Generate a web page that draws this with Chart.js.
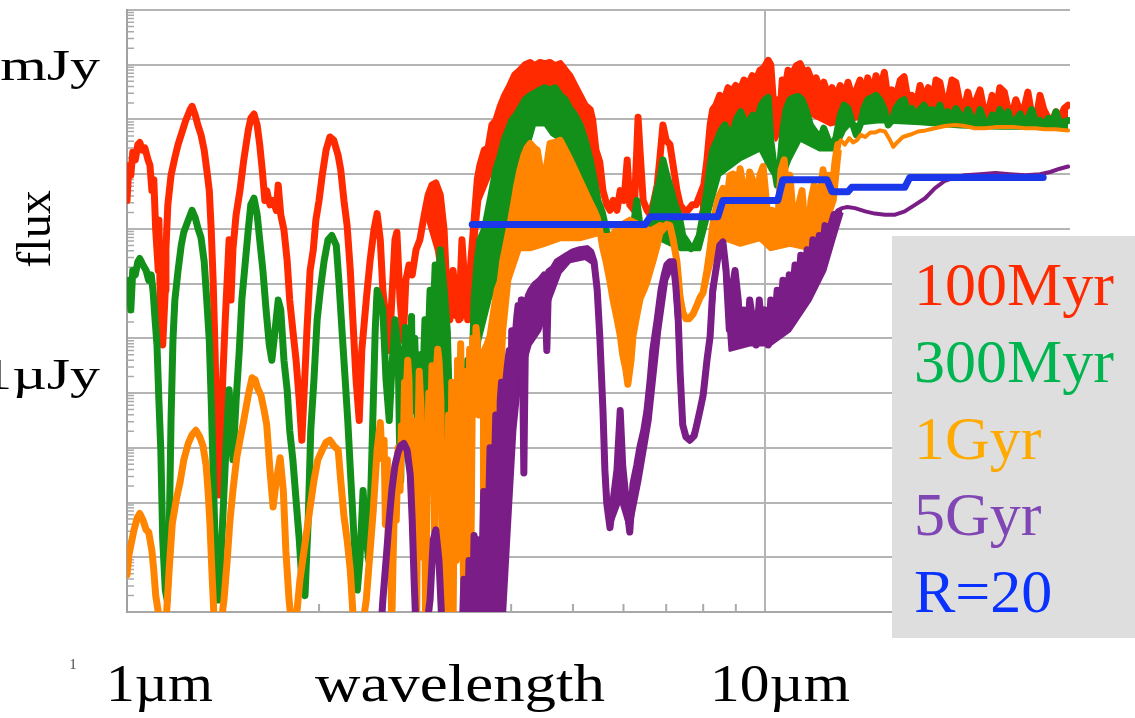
<!DOCTYPE html>
<html>
<head>
<meta charset="utf-8">
<script src="https://cdn.jsdelivr.net/npm/chart.js@4.4.0/dist/chart.umd.min.js"></script>
<style>
  html, body { margin: 0; padding: 0; background: #fff; }
  canvas { display: block; }
</style>
</head>
<body>
<canvas id="myChart" width="1135" height="718"></canvas>
<script>
// every point is [log10(wavelength / um), log10(flux / mJy)]
const spec100Myr = [
  [0,-1.24],[.003,-0.92],[.006,-1.01],[.009,-0.80],[.013,-0.87],[.017,-0.73],[.020,-0.71],[.024,-0.78],[.028,-0.76],[.033,-0.87],[.036,-0.92],[.039,-1.15],[.042,-1.05],[.045,-1.51],[.049,-1.88],[.050,-1.42],[.053,-2.43],[.056,-2.56],[.060,-2.06],[.061,-1.69],[.064,-1.28],[.069,-1.01],[.075,-0.85],[.080,-0.73],[.086,-0.62],[.092,-0.51],[.099,-0.41],[.102,-0.38],[.107,-0.46],[.111,-0.55],[.116,-0.64],[.121,-0.78],[.125,-0.96],[.129,-1.15],[.132,-1.51],[.135,-1.97],[.138,-2.61],[.141,-3.43],[.144,-3.93],[.147,-3.70],[.150,-2.88],[.154,-2.33],[.157,-1.97],[.160,-1.60],[.163,-2.15],[.166,-1.69],[.171,-1.37],[.177,-1.15],[.183,-0.87],[.190,-0.60],[.194,-0.49],[.199,-0.45],[.204,-0.55],[.208,-0.73],[.212,-0.96],[.216,-1.24],[.219,-1.15],[.224,-1.28],[.229,-1.24],[.234,-1.33],[.237,-1.10],[.241,-1.37],[.246,-1.51],[.251,-1.79],[.255,-2.15],[.260,-2.43],[.265,-2.70],[.270,-3.07],[.274,-3.43],[.277,-3.07],[.282,-2.43],[.287,-1.88],[.292,-1.69],[.296,-1.42],[.301,-1.24],[.306,-1.01],[.312,-0.78],[.318,-0.66],[.324,-0.69],[.331,-0.83],[.335,-0.96],[.340,-1.24],[.345,-1.47],[.350,-1.88],[.354,-2.33],[.359,-2.88],[.364,-3.25],[.368,-2.61],[.375,-2.15],[.381,-1.79],[.387,-1.51],[.392,-1.36],[.397,-1.60],[.401,-2.06],[.406,-2.33],[.411,-2.61],[.415,-2.15],[.420,-1.60],[.423,-1.53],[.428,-2.15],[.433,-2.52],[.437,-1.97],[.442,-1.83],[.447,-1.92],[.453,-1.69],[.459,-1.60],[.466,-1.37],[.472,-1.19],[.478,-1.10],[.484,-1.08],[.491,-1.19],[.497,-1.51],[.502,-2.15],[.506,-2.33],[.511,-1.88],[.516,-2.15],[.520,-2.33],[.525,-1.60],[.530,-2.06],[.534,-2.33],[.539,-1.79],[.544,-1.42],[.549,-1.05],[.553,-0.92],[.560,-0.78],[.566,-0.76],[.572,-0.55],[.578,-0.51],[.585,-0.38],[.592,-0.28],[.600,-0.19],[.608,-0.09],[.616,-0.05],[.624,0.00],[.632,0.02],[.639,-0.01],[.647,0.02],[.655,0.01],[.663,0.02],[.671,-0.01],[.679,0.01],[.687,-0.05],[.694,-0.10],[.702,-0.19],[.710,-0.28],[.718,-0.37],[.726,-0.41],[.730,-0.51],[.735,-0.78],[.741,-0.89],[.746,-1.15],[.752,-1.28],[.757,-1.33],[.762,-1.24],[.768,-1.33],[.773,-1.15],[.779,-1.24],[.784,-0.87],[.788,-1.28],[.795,-1.33],[.799,-0.78],[.801,-0.48],[.804,-0.78],[.809,-1.24],[.815,-1.33],[.820,-1.37],[.826,-1.24],[.831,-1.10],[.835,-0.87],[.840,-0.55],[.845,-0.69],[.851,-0.73],[.856,-0.92],[.862,-1.15],[.867,-1.28],[.873,-1.33],[.879,-1.33],[.886,-1.28],[.892,-1.28],[.898,-1.19],[.904,-1.10],[.909,-0.87],[.914,-0.55],[.918,-0.41],[.923,-0.37],[.929,-0.28],[.936,-0.32],[.942,-0.21],[.948,-0.25],[.954,-0.19],[.961,-0.23],[.967,-0.14],[.973,-0.19],[.980,-0.10],[.986,-0.14],[.992,-0.05],[.998,-0.03],[1.005,0.04],[1.009,0.00],[1.014,-0.41],[1.017,-0.55],[1.020,-0.32],[1.024,-0.41],[1.027,-0.14],[1.031,-0.23],[1.036,-0.05],[1.042,-0.09],[1.049,-0.01],[1.055,0.01],[1.061,-0.07],[1.067,-0.05],[1.074,-0.16],[1.080,-0.12],[1.086,-0.23],[1.092,-0.16],[1.099,-0.28],[1.105,-0.21],[1.111,-0.30],[1.118,-0.19],[1.124,-0.32],[1.130,-0.16],[1.136,-0.28],[1.143,-0.23],[1.149,-0.14],[1.155,-0.30],[1.161,-0.12],[1.168,-0.28],[1.174,-0.10],[1.180,-0.23],[1.187,-0.07],[1.193,-0.32],[1.199,-0.23],[1.205,-0.30],[1.212,-0.14],[1.218,-0.11],[1.224,-0.32],[1.230,-0.28],[1.237,-0.37],[1.243,-0.19],[1.249,-0.32],[1.256,-0.21],[1.262,-0.37],[1.268,-0.14],[1.274,-0.16],[1.281,-0.37],[1.287,-0.32],[1.293,-0.14],[1.299,-0.16],[1.306,-0.37],[1.312,-0.41],[1.318,-0.25],[1.324,-0.40],[1.331,-0.32],[1.337,-0.23],[1.343,-0.41],[1.350,-0.43],[1.356,-0.28],[1.362,-0.43],[1.368,-0.21],[1.375,-0.25],[1.381,-0.41],[1.387,-0.46],[1.393,-0.32],[1.400,-0.43],[1.406,-0.40],[1.412,-0.25],[1.418,-0.46],[1.425,-0.49],[1.431,-0.28],[1.437,-0.41],[1.444,-0.49],[1.450,-0.51],[1.456,-0.43],[1.462,-0.49],[1.469,-0.40],[1.475,-0.37]
];

const spec300Myr = [
  [0,-2.15],[.003,-1.97],[.006,-2.24],[.009,-1.88],[.013,-1.92],[.017,-1.80],[.020,-1.77],[.025,-1.83],[.030,-1.88],[.034,-1.97],[.038,-1.92],[.041,-2.08],[.044,-2.33],[.047,-2.56],[.050,-3.07],[.053,-3.52],[.056,-4.34],[.060,-4.80],[.063,-4.89],[.066,-4.34],[.069,-3.25],[.072,-2.52],[.075,-2.15],[.080,-1.88],[.085,-1.65],[.089,-1.53],[.096,-1.42],[.102,-1.33],[.107,-1.40],[.111,-1.49],[.116,-1.58],[.121,-1.80],[.125,-2.15],[.129,-2.52],[.132,-3.07],[.135,-3.70],[.138,-4.34],[.141,-4.80],[.144,-4.89],[.147,-4.53],[.150,-4.16],[.155,-3.52],[.160,-2.97],[.163,-3.25],[.166,-3.61],[.171,-3.07],[.176,-2.61],[.180,-2.15],[.185,-1.83],[.190,-1.51],[.194,-1.28],[.199,-1.22],[.204,-1.37],[.208,-1.60],[.213,-1.88],[.218,-2.24],[.223,-2.56],[.227,-2.70],[.232,-2.43],[.237,-2.15],[.241,-2.24],[.246,-2.70],[.251,-2.97],[.255,-3.34],[.260,-3.61],[.265,-3.98],[.270,-4.34],[.274,-4.71],[.279,-4.85],[.284,-4.16],[.288,-3.34],[.293,-2.88],[.298,-2.33],[.303,-2.06],[.309,-1.79],[.315,-1.60],[.321,-1.56],[.328,-1.65],[.332,-1.97],[.337,-2.43],[.342,-2.88],[.346,-3.25],[.351,-3.80],[.356,-4.34],[.361,-4.80],[.365,-4.53],[.370,-3.89],[.375,-4.34],[.379,-4.53],[.384,-3.52],[.389,-2.43],[.392,-2.06],[.397,-2.15],[.401,-2.24],[.406,-2.88],[.411,-3.25],[.415,-2.79],[.420,-2.33],[.425,-2.61],[.427,-3.40],[.429,-3.80],[.432,-2.60],[.434,-3.25],[.436,-2.40],[.439,-2.70],[.441,-3.60],[.444,-2.97],[.446,-2.30],[.448,-3.16],[.451,-2.50],[.453,-2.88],[.456,-3.50],[.459,-2.65],[.462,-3.20],[.467,-2.33],[.470,-2.90],[.475,-2.06],[.478,-2.60],[.483,-1.83],[.487,-2.30],[.491,-1.69],[.497,-2.06],[.502,-2.43],[.506,-3.25],[.511,-4.13],[.516,-3.25],[.520,-3.80],[.525,-2.88],[.530,-3.43],[.534,-2.70],[.539,-3.25],[.544,-2.15],[.549,-1.79],[.553,-1.60],[.560,-1.51],[.566,-1.33],[.572,-1.15],[.578,-0.96],[.585,-0.83],[.591,-0.69],[.597,-0.60],[.603,-0.51],[.610,-0.46],[.616,-0.40],[.624,-0.32],[.632,-0.28],[.639,-0.26],[.647,-0.23],[.655,-0.21],[.663,-0.23],[.671,-0.21],[.679,-0.28],[.687,-0.32],[.694,-0.40],[.702,-0.46],[.710,-0.55],[.718,-0.69],[.726,-0.87],[.732,-1.05],[.738,-1.24],[.745,-1.35],[.751,-1.51],[.757,-1.65],[.763,-1.69],[.768,-1.60],[.773,-1.51],[.777,-1.69],[.784,-1.88],[.788,-1.83],[.795,-1.42],[.799,-1.24],[.804,-1.47],[.810,-1.60],[.817,-1.56],[.823,-1.37],[.829,-1.19],[.835,-1.05],[.840,-0.87],[.846,-1.01],[.853,-1.15],[.859,-1.28],[.865,-1.37],[.871,-1.56],[.878,-1.62],[.884,-1.68],[.890,-1.65],[.897,-1.56],[.903,-1.37],[.909,-1.15],[.914,-0.92],[.918,-0.78],[.925,-0.69],[.931,-0.60],[.937,-0.55],[.944,-0.64],[.950,-0.60],[.956,-0.49],[.962,-0.43],[.969,-0.55],[.975,-0.51],[.981,-0.46],[.987,-0.52],[.994,-0.37],[1.000,-0.32],[1.005,-0.30],[1.009,-0.69],[1.014,-0.92],[1.019,-1.10],[1.024,-0.87],[1.028,-0.60],[1.033,-0.41],[1.039,-0.32],[1.045,-0.30],[1.052,-0.29],[1.058,-0.32],[1.064,-0.41],[1.071,-0.55],[1.077,-0.60],[1.082,-0.64],[1.086,-0.69],[1.092,-0.58],[1.099,-0.69],[1.105,-0.73],[1.111,-0.67],[1.118,-0.46],[1.124,-0.37],[1.130,-0.40],[1.136,-0.52],[1.143,-0.64],[1.149,-0.55],[1.155,-0.40],[1.161,-0.32],[1.168,-0.30],[1.174,-0.28],[1.180,-0.32],[1.187,-0.41],[1.193,-0.55],[1.199,-0.51],[1.205,-0.40],[1.212,-0.34],[1.218,-0.32],[1.224,-0.43],[1.230,-0.40],[1.237,-0.49],[1.243,-0.41],[1.249,-0.37],[1.256,-0.43],[1.262,-0.41],[1.268,-0.46],[1.274,-0.37],[1.281,-0.49],[1.287,-0.43],[1.293,-0.51],[1.299,-0.40],[1.306,-0.46],[1.312,-0.51],[1.318,-0.41],[1.324,-0.49],[1.331,-0.51],[1.337,-0.41],[1.343,-0.51],[1.350,-0.55],[1.356,-0.46],[1.362,-0.51],[1.368,-0.41],[1.375,-0.52],[1.381,-0.43],[1.387,-0.54],[1.393,-0.51],[1.400,-0.45],[1.406,-0.55],[1.412,-0.49],[1.418,-0.41],[1.425,-0.54],[1.431,-0.51],[1.437,-0.56],[1.444,-0.49],[1.450,-0.55],[1.456,-0.43],[1.462,-0.54],[1.469,-0.52],[1.475,-0.51]
];

const spec1Gyr = [
  [0,-4.66],[.003,-4.48],[.006,-4.39],[.011,-4.25],[.016,-4.14],[.020,-4.10],[.025,-4.16],[.030,-4.25],[.034,-4.27],[.039,-4.44],[.042,-4.62],[.045,-4.85],[.049,-5.00],[.052,-5.12],[.056,-5.19],[.061,-5.12],[.066,-4.62],[.071,-4.19],[.077,-3.98],[.083,-3.82],[.089,-3.61],[.096,-3.46],[.102,-3.38],[.108,-3.34],[.114,-3.40],[.119,-3.48],[.124,-3.66],[.127,-3.89],[.130,-4.19],[.133,-4.62],[.136,-5.00],[.141,-5.17],[.146,-5.17],[.152,-4.89],[.157,-4.53],[.161,-4.19],[.166,-3.89],[.172,-3.59],[.177,-3.43],[.183,-3.25],[.190,-3.02],[.196,-2.86],[.201,-2.88],[.205,-2.96],[.210,-3.02],[.215,-3.16],[.219,-3.29],[.224,-3.70],[.229,-4.04],[.234,-3.80],[.240,-3.59],[.245,-3.89],[.249,-4.44],[.254,-4.89],[.259,-5.17],[.265,-5.08],[.271,-4.71],[.276,-4.50],[.282,-4.25],[.287,-4.04],[.293,-3.80],[.299,-3.61],[.306,-3.52],[.312,-3.45],[.318,-3.43],[.324,-3.48],[.331,-3.52],[.335,-3.80],[.340,-4.12],[.345,-4.34],[.350,-4.62],[.354,-5.00],[.361,-5.17],[.368,-5.17],[.375,-4.89],[.381,-4.44],[.386,-4.07],[.392,-3.52],[.397,-3.27],[.400,-3.60],[.403,-3.43],[.405,-4.20],[.408,-3.61],[.410,-4.60],[.412,-4.16],[.415,-5.10],[.417,-4.53],[.420,-3.80],[.422,-4.16],[.425,-3.50],[.428,-3.89],[.430,-3.30],[.433,-3.52],[.435,-2.90],[.437,-3.07],[.440,-2.70],[.442,-2.88],[.444,-3.60],[.447,-3.25],[.449,-4.40],[.451,-3.70],[.454,-5.10],[.456,-3.43],[.458,-2.80],[.461,-3.16],[.463,-4.50],[.466,-3.61],[.468,-5.10],[.470,-3.98],[.473,-3.00],[.475,-3.52],[.478,-2.75],[.480,-3.25],[.482,-4.30],[.484,-2.88],[.487,-2.60],[.489,-2.70],[.492,-3.07],[.494,-4.60],[.497,-3.61],[.500,-5.10],[.502,-4.16],[.504,-3.20],[.506,-4.89],[.509,-2.90],[.511,-5.17],[.514,-3.10],[.516,-4.53],[.518,-2.70],[.520,-3.80],[.523,-2.55],[.525,-3.34],[.528,-5.10],[.530,-4.16],[.532,-2.80],[.534,-4.98],[.537,-2.60],[.539,-4.53],[.542,-2.50],[.544,-3.07],[.547,-2.40],[.549,-2.52],[.551,-3.20],[.553,-2.88],[.560,-2.61],[.564,-2.56],[.569,-2.48],[.575,-2.24],[.580,-2.06],[.585,-1.98],[.589,-1.79],[.594,-1.65],[.600,-1.47],[.607,-1.24],[.611,-1.10],[.616,-0.96],[.622,-0.83],[.627,-0.76],[.632,-0.72],[.638,-0.76],[.643,-0.78],[.647,-0.92],[.652,-1.20],[.657,-0.96],[.663,-0.72],[.671,-0.71],[.679,-0.69],[.687,-0.78],[.694,-0.86],[.702,-0.96],[.710,-1.06],[.718,-1.16],[.726,-1.26],[.732,-1.33],[.737,-1.40],[.741,-1.51],[.746,-1.68],[.751,-1.80],[.757,-1.98],[.762,-2.15],[.768,-2.32],[.773,-2.47],[.777,-2.65],[.782,-2.79],[.785,-2.92],[.790,-2.70],[.793,-2.48],[.799,-2.29],[.804,-2.14],[.810,-2.06],[.815,-1.98],[.820,-1.88],[.824,-1.80],[.831,-1.65],[.835,-1.54],[.842,-1.49],[.846,-1.46],[.851,-1.47],[.856,-1.60],[.862,-1.80],[.867,-2.14],[.871,-2.26],[.876,-2.32],[.881,-2.32],[.887,-2.28],[.893,-2.20],[.898,-2.13],[.903,-2.08],[.909,-1.88],[.914,-1.68],[.918,-1.47],[.925,-1.26],[.929,-1.19],[.934,-1.13],[.940,-1.24],[.945,-1.01],[.950,-1.00],[.956,-1.15],[.961,-0.95],[.966,-1.13],[.972,-1.24],[.976,-0.98],[.981,-1.06],[.987,-1.33],[.992,-1.01],[.997,-0.93],[1.002,-1.24],[1.006,-1.51],[1.011,-1.33],[1.016,-1.65],[1.020,-1.42],[1.025,-0.96],[1.030,-0.87],[1.034,-1.15],[1.039,-1.01],[1.044,-1.37],[1.049,-1.60],[1.053,-1.28],[1.058,-1.15],[1.063,-1.51],[1.067,-1.69],[1.072,-1.24],[1.077,-1.10],[1.082,-1.60],[1.086,-1.19],[1.091,-0.96],[1.096,-1.24],[1.100,-1.01],[1.105,-1.15],[1.110,-0.87],[1.114,-0.73],[1.119,-0.69],[1.125,-0.73],[1.132,-0.67],[1.138,-0.71],[1.144,-0.69],[1.150,-0.64],[1.157,-0.66],[1.165,-0.62],[1.172,-0.62],[1.180,-0.60],[1.188,-0.61],[1.196,-0.69],[1.201,-0.75],[1.207,-0.71],[1.216,-0.66],[1.227,-0.64],[1.240,-0.61],[1.252,-0.60],[1.266,-0.58],[1.282,-0.56],[1.298,-0.55],[1.313,-0.56],[1.329,-0.58],[1.345,-0.58],[1.361,-0.57],[1.376,-0.57],[1.392,-0.57],[1.408,-0.58],[1.423,-0.58],[1.439,-0.59],[1.455,-0.59],[1.475,-0.60]
];

const spec5Gyr = [
  [.397,-5.26],[.401,-4.89],[.406,-4.53],[.411,-4.16],[.415,-3.89],[.420,-3.66],[.425,-3.54],[.429,-3.48],[.434,-3.46],[.439,-3.52],[.444,-3.75],[.447,-4.16],[.450,-4.71],[.453,-5.17],[.467,-5.26],[.475,-4.89],[.480,-4.34],[.484,-4.25],[.489,-4.53],[.494,-5.17],[.525,-5.26],[.528,-4.70],[.531,-4.89],[.534,-5.20],[.536,-4.53],[.539,-4.90],[.541,-5.17],[.544,-4.30],[.547,-4.89],[.550,-5.20],[.552,-4.34],[.554,-5.20],[.556,-4.71],[.559,-3.90],[.561,-3.98],[.563,-5.20],[.566,-4.25],[.569,-3.50],[.571,-3.61],[.573,-4.90],[.575,-3.89],[.578,-3.20],[.580,-3.34],[.582,-4.50],[.585,-3.07],[.587,-2.90],[.589,-3.34],[.591,-4.20],[.594,-2.88],[.597,-2.70],[.599,-2.61],[.601,-3.60],[.603,-2.43],[.606,-3.10],[.608,-2.52],[.611,-2.30],[.613,-2.20],[.616,-2.60],[.618,-2.15],[.619,-2.24],[.622,-3.73],[.625,-2.24],[.629,-2.11],[.633,-2.06],[.639,-2.01],[.647,-1.97],[.654,-1.92],[.658,-2.61],[.661,-1.89],[.668,-1.86],[.674,-1.80],[.682,-1.77],[.690,-1.74],[.699,-1.71],[.710,-1.69],[.721,-1.68],[.727,-1.71],[.732,-1.80],[.737,-2.06],[.741,-2.48],[.746,-3.16],[.749,-3.70],[.752,-4.01],[.757,-4.23],[.762,-3.98],[.768,-3.70],[.773,-3.16],[.777,-3.67],[.784,-4.07],[.788,-4.27],[.793,-3.83],[.799,-3.66],[.804,-3.49],[.810,-3.34],[.815,-3.16],[.820,-2.88],[.824,-2.61],[.831,-2.33],[.837,-2.06],[.842,-1.92],[.846,-1.83],[.851,-1.80],[.856,-1.80],[.860,-2.01],[.864,-2.33],[.867,-2.82],[.871,-3.29],[.876,-3.40],[.882,-3.43],[.889,-3.39],[.893,-3.29],[.898,-3.16],[.903,-3.02],[.909,-2.70],[.914,-2.48],[.918,-2.06],[.925,-1.80],[.929,-1.65],[.934,-1.62],[.939,-1.88],[.944,-2.42],[.948,-2.06],[.953,-1.88],[.958,-2.15],[.962,-2.52],[.967,-2.24],[.972,-2.48],[.976,-2.15],[.981,-2.34],[.986,-2.56],[.991,-2.15],[.995,-2.42],[1.000,-2.24],[1.005,-2.56],[1.009,-2.15],[1.014,-2.47],[1.019,-2.06],[1.024,-2.33],[1.028,-1.97],[1.033,-2.24],[1.038,-1.92],[1.042,-2.15],[1.047,-1.83],[1.052,-2.06],[1.056,-1.74],[1.061,-1.97],[1.066,-1.69],[1.071,-1.88],[1.075,-1.60],[1.080,-1.79],[1.085,-1.56],[1.089,-1.74],[1.094,-1.47],[1.099,-1.65],[1.103,-1.47],[1.108,-1.37],[1.114,-1.33],[1.121,-1.31],[1.129,-1.30],[1.141,-1.31],[1.157,-1.34],[1.172,-1.36],[1.188,-1.37],[1.204,-1.37],[1.219,-1.34],[1.235,-1.28],[1.251,-1.22],[1.266,-1.13],[1.282,-1.06],[1.298,-1.03],[1.313,-1.01],[1.337,-1.00],[1.361,-0.99],[1.384,-1.00],[1.408,-1.01],[1.431,-1.00],[1.447,-0.98],[1.462,-0.95],[1.475,-0.93]
];

const specR20 = [
  [.541,-1.46],[.812,-1.46],[.820,-1.39],[.926,-1.39],[.934,-1.24],[1.020,-1.24],[1.028,-1.05],[1.097,-1.05],[1.105,-1.16],[1.130,-1.16],[1.136,-1.12],[1.219,-1.12],[1.227,-1.03],[1.436,-1.03]
];

// other edge of the noise band, where the spectra are too dense to show as a single line
const edge100Myr = [
  [.470,-1.40],[.485,-1.70],[.497,-2.20],[.510,-2.30],[.525,-2.33],[.540,-2.00],[.553,-1.24],[.585,-0.78],[.616,-0.46],[.647,-0.32],[.679,-0.37],[.710,-0.60],[.726,-0.78],[.741,-1.24],
  [.820,null],
  [.898,-1.37],[.914,-1.05],[.929,-0.78],[.961,-0.60],[.992,-0.46],[1.008,-0.41],[1.017,-0.69],[1.031,-0.51],[1.055,-0.41],[1.102,-0.55],[1.149,-0.49],[1.212,-0.49],[1.290,-0.51],[1.368,-0.54],[1.475,-0.54]
];
const edge300Myr = [
  [.440,-2.80],[.460,-3.30],[.480,-3.40],[.500,-3.60],[.520,-3.80],[.540,-3.40],[.553,-2.52],[.569,-2.15],[.585,-1.88],[.600,-1.42],[.616,-0.96],[.632,-0.69],[.639,-0.55],[.655,-0.55],[.666,-0.64],[.679,-0.69],[.694,-0.83],[.710,-1.01],[.726,-1.24],[.741,-1.47],[.757,-1.69],[.773,-1.88],[.804,-1.81],[.835,-1.60],[.867,-1.69],[.898,-1.69],[.914,-1.33],[.929,-1.01],[.961,-0.87],[.992,-0.78],[1.008,-0.96],[1.024,-1.10],[1.039,-0.87],[1.055,-0.69],[1.086,-0.78],[1.110,-0.78],[1.125,-0.60],[1.133,-0.55],[1.180,-0.52],[1.243,-0.54],[1.306,-0.57],[1.368,-0.58],[1.475,-0.58]
];
const edge1Gyr = [
  [.553,-5.00],[.569,-4.89],[.577,-4.16],[.585,-3.25],[.592,-2.43],[.600,-1.97],[.616,-1.69],[.632,-1.69],[.655,-1.65],[.679,-1.60],[.710,-1.60],[.741,-1.55],[.757,-1.55],[.773,-1.45],[.788,-1.40],[.804,-1.45],[.820,-1.50],[.835,-1.45],[.851,-1.47],[.860,-1.80],[.876,-2.33],[.893,-2.21],[.906,-2.06],[.922,-1.69],[.937,-1.60],[.961,-1.65],[.992,-1.60],[1.008,-1.69],[1.039,-1.65],[1.071,-1.69],[1.094,-1.51],[1.110,-1.24],[1.118,-0.78]
];
const edge5Gyr = [
  [.553,-5.00],[.592,-5.00],[.600,-4.16],[.608,-3.34],[.616,-2.88],[.632,-2.56],[.647,-2.43],[.663,-2.15],[.679,-1.90],[.694,-1.80],[.718,-1.77],[.733,-1.83],[.746,-3.25],[.757,-4.23],[.773,-3.98],[.788,-4.27],[.804,-3.80],[.820,-3.25],[.835,-2.43],[.846,-1.97],[.856,-1.83],[.871,-3.29],[.882,-3.45],[.898,-3.18],[.914,-2.50],[.925,-1.83],[.934,-1.69],[.945,-2.61],[.976,-2.56],[1.008,-2.56],[1.039,-2.43],[1.071,-2.15],[1.094,-1.88],[1.110,-1.56],[1.121,-1.35]
];

const seriesLabels = ['100Myr', '300Myr', '1Gyr', '5Gyr', 'R=20'];
const seriesData = [spec100Myr, spec300Myr, spec1Gyr, spec5Gyr, specR20];
const bandEdges = [edge100Myr, edge300Myr, edge1Gyr, edge5Gyr];
const lineColors = ['#ff2a00', '#12901a', '#ff8400', '#7a1d86', '#1a38ea'];
const legendColors = ['#ff2a00', '#00b450', '#ffaa00', '#8046b4', '#0a32ff'];
const lineWidths = [7, 7, 7, 7, 7];
// where the spectra turn smooth (log10 um), drawn thinner from there on
const smoothFrom = [null, null, 1.114, 1.108, null];

// wavelength marks (um)
const gridWavelengths = [10];
const minorWavelengths = [2, 3, 4, 5, 6, 7, 8, 9, 20];

const SERIF = '"Liberation Serif", "Times New Roman", serif';

function drawText(ctx, text, x, y, size, opts) {
  opts = opts || {};
  ctx.save();
  ctx.font = size + 'px ' + SERIF;
  ctx.fillStyle = opts.color || '#000';
  ctx.textAlign = opts.align || 'left';
  ctx.textBaseline = 'alphabetic';
  let sx = opts.sx || 1;
  if (opts.width) sx = opts.width / ctx.measureText(text).width;
  ctx.translate(x, y);
  if (opts.rotate) ctx.rotate(opts.rotate);
  ctx.scale(sx, 1);
  ctx.fillText(text, 0, 0);
  ctx.restore();
}

const decorPlugin = {
  id: 'decor',
  beforeDatasetsDraw(chart) {
    const { ctx, chartArea: a, scales: { x, y } } = chart;
    ctx.save();
    ctx.strokeStyle = '#aaaaaa';
    ctx.lineWidth = 2;
    ctx.beginPath();
    minorWavelengths.forEach(w => {
      const px = x.getPixelForValue(Math.log10(w));
      ctx.moveTo(px, a.bottom);
      ctx.lineTo(px, a.bottom - 8);
    });
    ctx.stroke();
    // little log ticks along the flux axis
    ctx.lineWidth = 1.5;
    ctx.beginPath();
    for (let v = -5; v < 0.5; v += 0.5) {
      for (let k = 2; k <= 9; k++) {
        const py = y.getPixelForValue(v + 0.5 * Math.log10(k));
        ctx.moveTo(a.left, py);
        ctx.lineTo(a.left + 7, py);
      }
    }
    ctx.stroke();
    ctx.restore();
  },
  afterDraw(chart) {
    const ctx = chart.ctx;
    // axis words
    drawText(ctx, '1mJy', 100, 80, 45, { align: 'right', sx: 1.33 });
    drawText(ctx, '1µJy', 100, 389, 45, { align: 'right', sx: 1.33 });
    drawText(ctx, 'flux', 50, 229, 48, { align: 'center', rotate: -Math.PI / 2 });
    drawText(ctx, '1', 73, 669, 14, { align: 'center', color: '#444' });
    drawText(ctx, '1µm', 106, 701, 52, { width: 107 });
    drawText(ctx, 'wavelength', 315, 701, 52, { width: 290 });
    drawText(ctx, '10µm', 710, 701, 52, { width: 140 });

    // legend panel
    ctx.save();
    ctx.fillStyle = '#dedede';
    ctx.fillRect(892, 236, 243, 402);
    ctx.restore();
    seriesLabels.forEach((label, i) => {
      drawText(ctx, label, 914, 305 + i * 76.8, 62, { color: legendColors[i] });
    });
  }
};

// blue step line on top, then purple, orange, green, red underneath
const drawOrder = [10, 8, 6, 4, 1];

const datasets = seriesLabels.map((label, i) => ({
  label: label,
  data: seriesData[i],
  borderColor: lineColors[i],
  borderWidth: lineWidths[i],
  borderJoinStyle: 'round',
  borderCapStyle: 'round',
  pointRadius: 0,
  tension: 0,
  fill: false,
  clip: 0,
  order: drawOrder[i],
  segment: {
    borderWidth: c => (smoothFrom[i] !== null && c.p0.parsed.x >= smoothFrom[i]) ? 4 : undefined
  }
}));

// band datasets: other edge filled up to the spectrum line
bandEdges.forEach((edge, i) => {
  datasets.push({
    label: seriesLabels[i] + ' band',
    data: edge,
    borderColor: lineColors[i],
    backgroundColor: lineColors[i],
    borderWidth: 3,
    borderJoinStyle: 'round',
    pointRadius: 0,
    tension: 0,
    fill: { target: i },
    clip: 0,
    order: drawOrder[i] + 1
  });
});

const ctx = document.getElementById('myChart').getContext('2d');
const myChart = new Chart(ctx, {
  type: 'line',
  data: { datasets: datasets },
  options: {
    responsive: false,
    animation: false,
    layout: { padding: { left: 127, top: 10, right: 65, bottom: 106 } },
    plugins: {
      legend: { display: false },
      tooltip: { enabled: false }
    },
    scales: {
      x: {
        type: 'linear',
        min: 0,
        max: 1.478,
        ticks: { display: false },
        afterBuildTicks: scale => {
          scale.ticks = gridWavelengths.map(w => ({ value: Math.log10(w) }));
        },
        grid: { color: '#b4b4b4', lineWidth: 2, drawTicks: false },
        border: { display: true, color: '#a8a8a8', width: 2 }
      },
      y: {
        type: 'linear',
        min: -5,
        max: 0.5,
        ticks: { display: false, stepSize: 0.5 },
        grid: { color: '#b4b4b4', lineWidth: 2, drawTicks: false },
        border: { display: true, color: '#a0a0a0', width: 2 }
      }
    }
  },
  plugins: [decorPlugin]
});
</script>
</body>
</html>
